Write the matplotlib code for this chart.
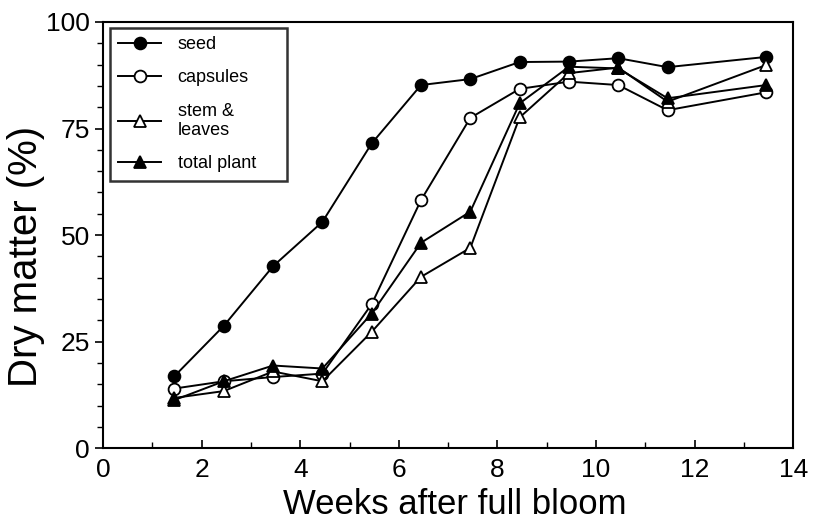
import numpy as np
import matplotlib
matplotlib.use('Agg')
import matplotlib.pyplot as plt
from matplotlib.ticker import MultipleLocator

plt.rcParams['font.family'] = ['Liberation Sans', 'DejaVu Sans']

# weeks after full bloom
weeks = [1.45, 2.45, 3.45, 4.45, 5.45, 6.45, 7.45, 8.45, 9.45, 10.45, 11.45, 13.45]

# dry matter (%)
seed = [16.9, 28.7, 42.7, 53.1, 71.5, 85.2, 86.6, 90.6, 90.7, 91.5, 89.4, 91.8]
capsules = [14.0, 15.7, 16.7, 17.5, 33.8, 58.2, 77.5, 84.3, 86.0, 85.2, 79.3, 83.5]
stem_leaves = [11.8, 13.4, 18.0, 15.7, 27.3, 40.2, 47.0, 77.6, 88.0, 89.3, 81.3, 89.9]
total_plant = [11.3, 15.7, 19.4, 18.7, 31.6, 48.2, 55.5, 80.9, 89.5, 89.1, 82.1, 85.2]

fig = plt.figure(figsize=(8.17, 5.23), dpi=100)
ax = fig.add_axes([0.126, 0.143, 0.845, 0.815])

kw = dict(color='black', lw=1.4, markersize=8.5, markeredgewidth=1.3)
ax.plot(weeks, seed, marker='o', mfc='black', mec='black', label='seed', **kw)
ax.plot(weeks, capsules, marker='o', mfc='white', mec='black', label='capsules', **kw)
ax.plot(weeks, stem_leaves, marker='^', mfc='white', mec='black', label='stem &\nleaves', **kw)
ax.plot(weeks, total_plant, marker='^', mfc='black', mec='black', label='total plant', **kw)

ax.set_xlim(0, 14)
ax.set_ylim(0, 100)
ax.xaxis.set_major_locator(MultipleLocator(2))
ax.xaxis.set_minor_locator(MultipleLocator(1))
ax.yaxis.set_major_locator(MultipleLocator(25))
ax.yaxis.set_minor_locator(MultipleLocator(5))
ax.tick_params(axis='x', which='both', direction='in', labelsize=19, pad=7)
ax.tick_params(axis='x', which='major', length=6, width=1.2)
ax.tick_params(axis='x', which='minor', length=4, width=1)
ax.tick_params(axis='y', which='both', direction='out', labelsize=19)
ax.tick_params(axis='y', which='major', length=6, width=1.2)
ax.tick_params(axis='y', which='minor', length=4, width=1)
for s in ax.spines.values():
    s.set_linewidth(1.5)

ax.set_xlabel('Weeks after full bloom', fontsize=25)
ax.xaxis.label.set_va('bottom')
ax.xaxis.set_label_coords(0.51, -0.171, transform=ax.transAxes)
fig.text(26 / 817, 0.51, 'Dry matter (%)', fontsize=29, rotation=90,
         ha='center', va='center')

leg = ax.legend(loc='upper left', bbox_to_anchor=(0.0101, 0.0, 0.2565, 0.986),
                mode='expand', fontsize=13, frameon=True, fancybox=False,
                edgecolor='black', handlelength=2.4, labelspacing=0.9,
                borderpad=0.45, handletextpad=0.9, borderaxespad=0)
leg.get_frame().set_linewidth(1.8)

fig.savefig('out.png', dpi=100)
